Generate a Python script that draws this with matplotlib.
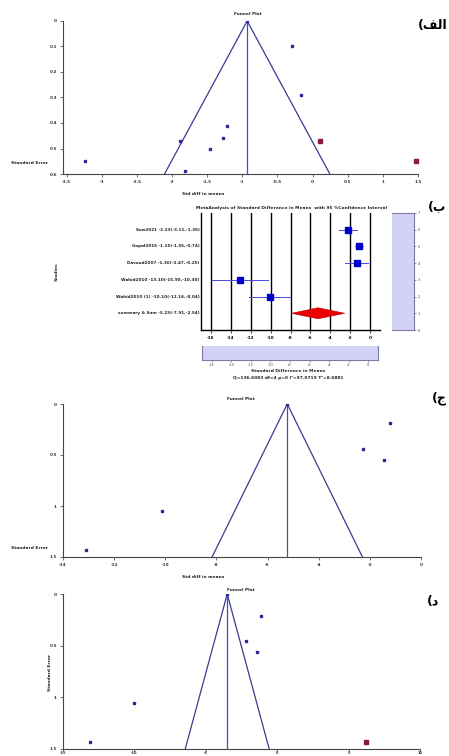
import matplotlib
matplotlib.use("Agg")
import matplotlib.pyplot as plt
from matplotlib.patches import Polygon

W, H = 449, 756

# ---- panel الف : funnel plot ----
a_mean = -0.93
a_se_max = 0.6
a_x = [-0.29, -0.16, -1.21, -1.88, -1.27, -1.46, -3.24, -1.82]
a_se = [0.10, 0.29, 0.41, 0.47, 0.46, 0.50, 0.55, 0.59]
a_fill_x = [0.11, 1.47]
a_fill_se = [0.47, 0.55]
a_xticks = [-3.5, -3, -2.5, -2, -1.5, -1, -0.5, 0, 0.5, 1, 1.5]
a_yticks = [0, 0.1, 0.2, 0.3, 0.4, 0.5, 0.6]

# ---- panel ب : forest plot ----
studies = ["Sow2021", "Gopal2016", "Davoud2007", "Wahid2010", "Wahid2010 (1)"]
smd = [-2.23, -1.15, -1.36, -13.10, -10.10]
ci_low = [-3.11, -1.55, -2.47, -15.90, -12.16]
ci_high = [-1.35, -0.74, -0.25, -10.30, -8.04]
study_rows = [6, 5, 4, 3, 2]
marker_size = [4.0, 4.6, 4.2, 3.8, 4.3]
sum_label = "summary & Sum"
sum_est, sum_low, sum_high = -5.23, -7.91, -2.54
b_xticks = [-16, -14, -12, -10, -8, -6, -4, -2, 0]
b_rows = [0, 1, 2, 3, 4, 5, 6, 7]
stats_text = "Q=136.6083 df=4 p=0 I\u00b2=97.0719 T\u00b2=8.6881"

# ---- panel ج : funnel plot ----
c_mean = -5.23
c_se_max = 1.5
c_x = [-1.20, -2.28, -1.43, -10.13, -13.10]
c_se = [0.19, 0.44, 0.55, 1.05, 1.43]
c_xticks = [-14, -12, -10, -8, -6, -4, -2, 0]
c_yticks = [0, 0.5, 1, 1.5]

# ---- panel د : funnel plot ----
d_mean = -3.50
d_se_max = 1.5
d_x = [-1.10, -2.17, -1.38, -10.05, -13.10]
d_se = [0.21, 0.45, 0.56, 1.05, 1.43]
d_fill_x = [6.22]
d_fill_se = [1.43]
d_xticks = [-15, -10, -5, 0, 5, 10]
d_yticks = [0, 0.5, 1, 1.5]

FUNNEL_COL = "#3a3a94"
MEAN_COL = "#4a4ac8"
DOT_COL = "#2a2a9a"
FILL_COL = "#8a1848"
LILAC = "#d2d2f7"
TICK_FS = 3


def rect(left, top, right, bottom):
    # pixel box -> figure fraction
    return [left / W, 1 - bottom / H, (right - left) / W, (bottom - top) / H]


def fmt(v):
    return f"{v:g}"


def funnel(ax, mean, se_max, xs, ses, fx, fses, xlim, xticks, yticks):
    ax.plot([mean - 1.96 * se_max, mean, mean + 1.96 * se_max], [se_max, 0, se_max],
            color=FUNNEL_COL, linewidth=0.9)
    ax.plot([mean, mean], [0, se_max], color=MEAN_COL, linewidth=0.9)
    ax.plot([mean], [0], "s", color=DOT_COL, markersize=1.8)
    ax.plot(xs, ses, "s", color=DOT_COL, markersize=1.8, clip_on=False)
    if fx:
        ax.plot(fx, fses, "s", color=FILL_COL, markersize=3.3, clip_on=False)
    ax.set_xlim(*xlim)
    ax.set_ylim(se_max, 0)
    ax.set_xticks(xticks)
    ax.set_xticklabels([fmt(t) for t in xticks])
    ax.set_yticks(yticks)
    ax.set_yticklabels([fmt(t) for t in yticks])
    for s in ("top", "right"):
        ax.spines[s].set_visible(False)
    for s in ("left", "bottom"):
        ax.spines[s].set_color("#444444")
        ax.spines[s].set_linewidth(0.8)
    ax.tick_params(labelsize=TICK_FS, length=2.5, width=0.5, pad=2, colors="#333333")
    for lbl in ax.get_xticklabels() + ax.get_yticklabels():
        lbl.set_fontweight("bold")


fig = plt.figure(figsize=(W / 100, H / 100), dpi=100)
fig.patch.set_facecolor("white")

small = dict(fontsize=3.2, fontweight="bold", color="#222222")
label_kw = dict(fontsize=9, fontweight="bold", family=["DejaVu Sans"], color="black")

# panel الف
ax_a = fig.add_axes(rect(63, 21, 418, 174))
funnel(ax_a, a_mean, a_se_max, a_x, a_se, a_fill_x, a_fill_se, (-3.55, 1.5), a_xticks, a_yticks)
fig.text(248 / W, 1 - 14 / H, "Funnel Plot", ha="center", va="center", **small)
fig.text(30 / W, 1 - 163 / H, "Standard Error", ha="center", va="center", **small)
fig.text(203 / W, 1 - 194 / H, "Std diff in means", ha="center", va="center", **small)
fig.text(433 / W, 1 - 25 / H, "(\ufed2\ufedf\ufe8d", ha="center", va="center", **label_kw)

# panel ب
ax_b = fig.add_axes(rect(201, 213, 380, 330))
for t in b_xticks:
    ax_b.axvline(t, color="black", linewidth=1.0, zorder=1)
for name, m, lo, hi, row, ms in zip(studies, smd, ci_low, ci_high, study_rows, marker_size):
    ax_b.plot([lo, hi], [row, row], color="#4848e0", linewidth=0.7, zorder=2)
    ax_b.plot([m], [row], "s", color="#0000cc", markersize=ms, zorder=3)
    ax_b.text(-17.15, row, f"{name} {m:.2f}({lo:.2f},{hi:.2f})", ha="right", va="center",
              fontsize=3, fontweight="bold", color="#222222")
diamond = Polygon([(sum_low, 1), (sum_est, 1.33), (sum_high, 1), (sum_est, 0.67)],
                  closed=True, facecolor="#e80000", edgecolor="#c00000", linewidth=0.4, zorder=3)
ax_b.add_patch(diamond)
ax_b.text(-17.15, 1, f"{sum_label} {sum_est:.2f}({sum_low:.2f},{sum_high:.2f})", ha="right",
          va="center", fontsize=3, fontweight="bold", color="#222222")
ax_b.set_xlim(-17, 1)
ax_b.set_ylim(0, 7)
ax_b.set_xticks(b_xticks)
ax_b.set_xticklabels([str(t) for t in b_xticks])
ax_b.set_yticks([])
for s in ("top", "right"):
    ax_b.spines[s].set_visible(False)
for s in ("left", "bottom"):
    ax_b.spines[s].set_linewidth(1.0)
ax_b.tick_params(labelsize=TICK_FS, length=2, width=0.5, pad=2)
for lbl in ax_b.get_xticklabels():
    lbl.set_fontweight("bold")
fig.text(291 / W, 1 - 207.5 / H,
         "MetaAnalysis of Standard Difference in Means  with 95 %Confidence Interval",
         ha="center", va="center", **small)
fig.text(57 / W, 1 - 272 / H, "Studies", ha="center", va="center", rotation=90, **small)

# side strip (rows)
ax_bs = fig.add_axes(rect(392, 213, 414, 330))
ax_bs.set_facecolor(LILAC)
ax_bs.set_xlim(0, 1)
ax_bs.set_ylim(0, 7)
ax_bs.set_xticks([])
ax_bs.set_yticks(b_rows)
ax_bs.yaxis.tick_right()
ax_bs.spines["left"].set_visible(False)
for s in ("top", "bottom", "right"):
    ax_bs.spines[s].set_color("#7a7aa8")
    ax_bs.spines[s].set_linewidth(0.8)
ax_bs.tick_params(labelsize=2.6, length=1.5, width=0.4, pad=1, colors="#444466")

# bottom strip (x range)
ax_bb = fig.add_axes(rect(202, 346, 378, 360))
ax_bb.set_facecolor(LILAC)
ax_bb.set_xlim(-17, 1)
ax_bb.set_ylim(0, 1)
ax_bb.set_yticks([])
ax_bb.set_xticks(b_xticks)
ax_bb.set_xticklabels([str(t) for t in b_xticks])
ax_bb.spines["top"].set_visible(False)
for s in ("bottom", "left", "right"):
    ax_bb.spines[s].set_color("#7a7aa8")
    ax_bb.spines[s].set_linewidth(0.8)
ax_bb.tick_params(labelsize=2.6, length=1.5, width=0.4, pad=1, colors="#444466")
fig.text(288 / W, 1 - 371.5 / H, "Standard Difference in Means", ha="center", va="center", **small)
fig.text(288 / W, 1 - 377.5 / H, stats_text, ha="center", va="center", **small)
fig.text(437 / W, 1 - 207 / H, "(\ufe8f", ha="center", va="center", **label_kw)

# panel ج
ax_c = fig.add_axes(rect(63, 404, 421, 557))
funnel(ax_c, c_mean, c_se_max, c_x, c_se, [], [], (-14, 0), c_xticks, c_yticks)
fig.text(241 / W, 1 - 399 / H, "Funnel Plot", ha="center", va="center", **small)
fig.text(30 / W, 1 - 548 / H, "Standard Error", ha="center", va="center", **small)
fig.text(203 / W, 1 - 577 / H, "Std diff in means", ha="center", va="center", **small)
fig.text(439 / W, 1 - 398 / H, "(\ufe9d", ha="center", va="center", **label_kw)

# panel د (bottom edge of the figure, tick labels squeezed in)
ax_d = fig.add_axes(rect(63, 594, 420, 749))
funnel(ax_d, d_mean, d_se_max, d_x, d_se, d_fill_x, d_fill_se, (-15, 10), d_xticks, d_yticks)
ax_d.tick_params(axis="x", labelsize=2.6, length=1.2, pad=0.3)
fig.text(241 / W, 1 - 590 / H, "Funnel Plot", ha="center", va="center", **small)
fig.text(50 / W, 1 - 672 / H, "Standard Error", ha="center", va="center", rotation=90, **small)
fig.text(433 / W, 1 - 602 / H, "(\ufea9", ha="center", va="center", **label_kw)

fig.savefig("out.png", dpi=100)
